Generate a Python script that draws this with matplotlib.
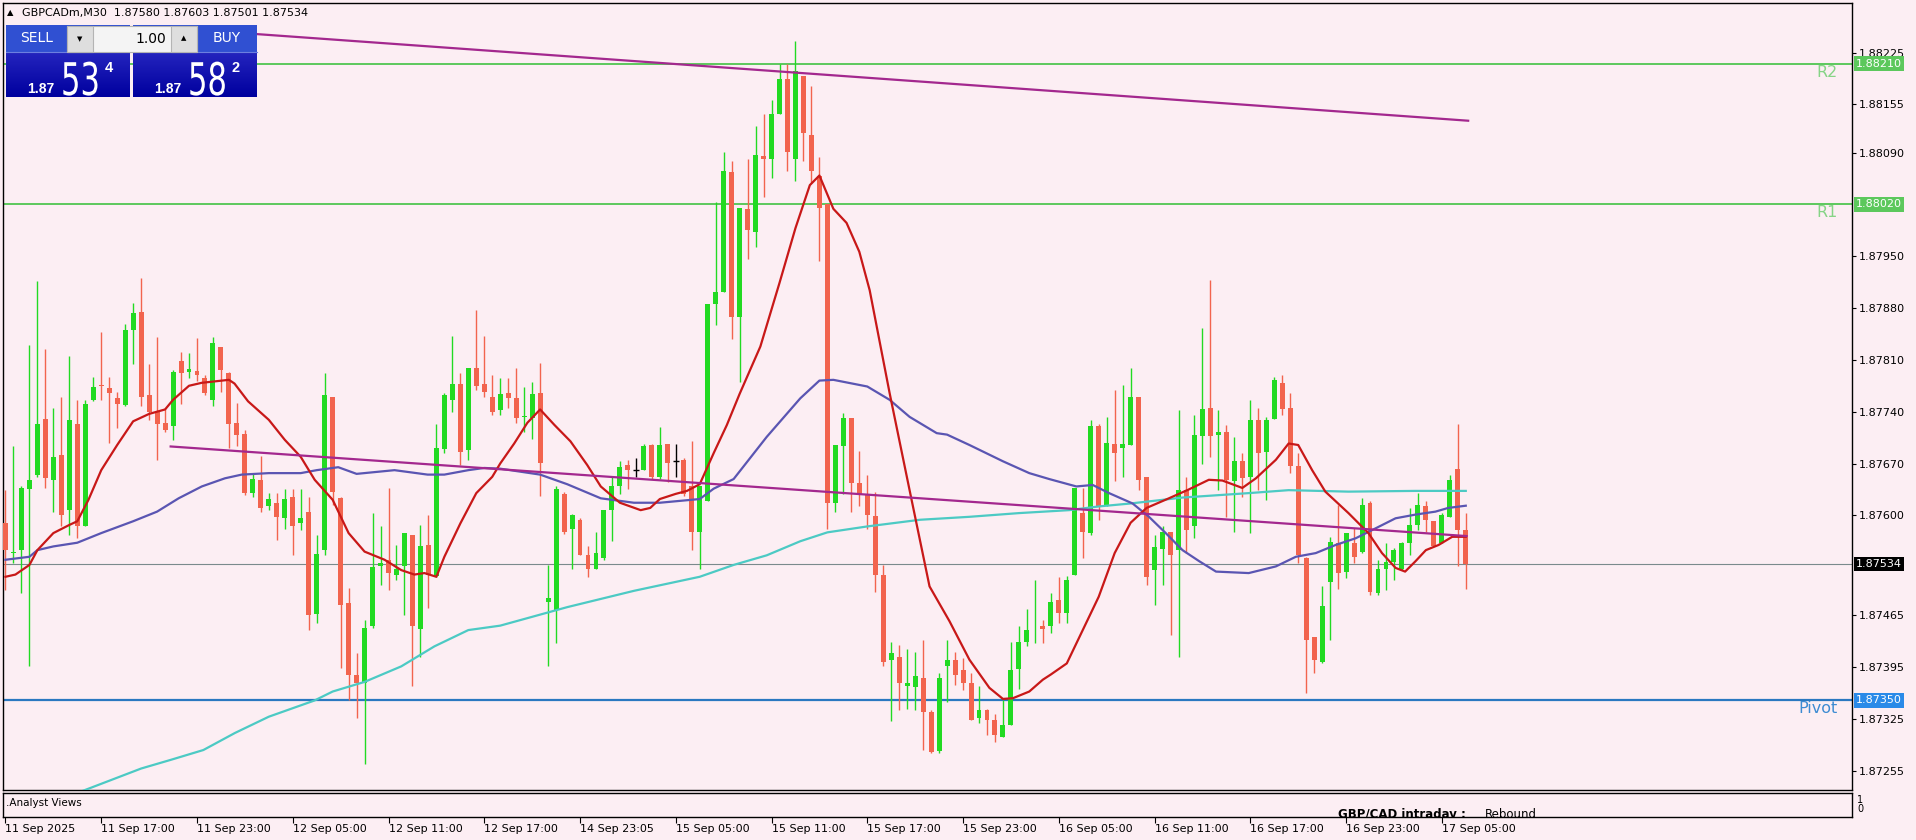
import numpy as np
import matplotlib
matplotlib.use("Agg")
import matplotlib.pyplot as plt
from matplotlib.patches import Rectangle, PathPatch
from matplotlib.transforms import blended_transform_factory, Affine2D
from matplotlib.colors import LinearSegmentedColormap
from matplotlib.textpath import TextPath
from matplotlib.font_manager import FontProperties

# GBPCAD M30 bars, prices in points (1e-5) above 1.87000
BASE = 1.87
PT = 1e-5

opens = [589, 549, 553, 635, 655, 730, 648, 682, 607, 724,
         585, 756, 776, 772, 758, 749, 850, 875, 763, 740,
         725, 720, 808, 793, 795, 785, 756, 827, 792, 725,
         710, 630, 648, 612, 616, 596, 625, 589, 605, 467,
         553, 760, 623, 481, 385, 374, 450, 532, 540, 520,
         531, 574, 446, 560, 518, 689, 756, 778, 688, 799,
         777, 760, 742, 765, 758, 733, 732, 765, 483, 472,
         629, 581, 594, 546, 527, 543, 607, 639, 668, 661,
         661, 695, 652, 697, 674, 675, 639, 578, 620, 886,
         902, 1064, 868, 1014, 983, 1086, 1081, 1142, 1190, 1081,
         1194, 1114, 1059, 1020, 617, 694, 732, 643, 629, 599,
         520, 404, 408, 370, 368, 380, 335, 282, 396, 405,
         391, 373, 326, 337, 323, 301, 317, 393, 429, 446,
         450, 450, 485, 468, 519, 603, 576, 720, 614, 696,
         691, 695, 760, 652, 526, 554, 577, 553, 634, 585,
         707, 745, 709, 712, 646, 673, 652, 729, 685, 730,
         779, 745, 667, 543, 436, 402, 510, 562, 524, 562,
         551, 616, 495, 528, 537, 528, 562, 587, 612, 592,
         562, 598, 662, 580]
highs = [634, 693, 639, 830, 916, 824, 745, 760, 815, 756,
         756, 787, 847, 787, 767, 859, 887, 920, 805, 841,
         745, 796, 821, 819, 839, 790, 841, 827, 794, 752,
         715, 657, 680, 630, 630, 635, 635, 635, 625, 574,
         792, 760, 625, 502, 414, 459, 603, 585, 637, 560,
         576, 574, 587, 601, 724, 765, 842, 792, 799, 878,
         842, 790, 785, 786, 799, 774, 780, 806, 533, 639,
         631, 602, 597, 559, 578, 607, 652, 674, 675, 677,
         697, 697, 719, 697, 697, 677, 700, 639, 886, 1023,
         1091, 1078, 1015, 1081, 1126, 1142, 1161, 1209, 1209, 1241,
         1194, 1180, 1084, 1020, 695, 738, 732, 687, 655, 632,
         533, 429, 425, 420, 416, 432, 337, 387, 432, 416,
         407, 387, 369, 339, 332, 351, 429, 450, 474, 513,
         459, 495, 517, 518, 637, 637, 729, 724, 733, 769,
         776, 799, 760, 652, 573, 585, 577, 742, 652, 736,
         853, 918, 742, 722, 706, 684, 756, 745, 733, 787,
         790, 765, 684, 544, 436, 504, 571, 614, 576, 583,
         623, 619, 540, 562, 556, 564, 610, 630, 619, 592,
         603, 655, 724, 603]
lows = [499, 535, 495, 396, 652, 637, 605, 585, 574, 569,
        585, 754, 756, 698, 718, 747, 805, 747, 729, 675,
        713, 702, 751, 785, 781, 763, 747, 767, 691, 693,
        628, 625, 605, 607, 567, 581, 547, 580, 445, 454,
        547, 614, 394, 351, 326, 264, 448, 506, 499, 513,
        466, 369, 409, 475, 517, 684, 740, 668, 675, 769,
        760, 736, 735, 745, 725, 713, 703, 626, 396, 428,
        575, 527, 546, 517, 527, 540, 565, 629, 636, 652,
        661, 649, 649, 645, 652, 626, 553, 527, 620, 857,
        902, 838, 780, 946, 963, 1030, 1055, 1142, 1065, 1052,
        1078, 1049, 943, 581, 604, 629, 604, 613, 581, 497,
        396, 322, 337, 339, 337, 283, 279, 279, 348, 371,
        364, 324, 319, 303, 294, 301, 317, 366, 423, 427,
        427, 441, 454, 454, 519, 542, 574, 594, 612, 646,
        652, 695, 634, 506, 479, 506, 438, 409, 549, 569,
        670, 679, 634, 598, 578, 625, 576, 634, 621, 730,
        736, 657, 535, 360, 387, 400, 432, 501, 515, 535,
        549, 492, 492, 499, 513, 526, 546, 580, 578, 558,
        562, 598, 531, 501]
closes = [553, 551, 637, 648, 724, 650, 679, 601, 729, 585,
          751, 774, 775, 765, 751, 850, 873, 760, 740, 724,
          715, 794, 792, 797, 790, 765, 833, 796, 724, 709,
          630, 649, 610, 622, 598, 622, 585, 597, 466, 548,
          763, 632, 479, 385, 374, 448, 530, 535, 522, 527,
          576, 450, 559, 520, 691, 763, 778, 686, 799, 775,
          767, 740, 764, 758, 732, 734, 764, 671, 488, 636,
          578, 601, 546, 527, 549, 607, 639, 665, 661, 661,
          693, 652, 695, 671, 674, 629, 578, 639, 886, 902,
          1065, 868, 1015, 985, 1087, 1081, 1142, 1190, 1091, 1200,
          1116, 1065, 1015, 617, 695, 732, 643, 629, 601, 519,
          402, 414, 373, 373, 383, 335, 281, 380, 405, 384,
          373, 324, 337, 324, 303, 317, 391, 429, 445, 447,
          447, 483, 468, 512, 637, 578, 720, 612, 698, 684,
          696, 760, 648, 517, 557, 577, 546, 634, 580, 709,
          743, 707, 713, 648, 673, 650, 729, 684, 729, 783,
          743, 666, 546, 432, 405, 477, 564, 522, 576, 544,
          614, 497, 528, 537, 553, 562, 587, 614, 594, 558,
          601, 648, 580, 534]

# moving averages (bar index, points)
red_i = [0, 1.25, 3, 4, 6, 8, 9, 10.4, 12, 14, 16, 18, 20, 21, 23, 24.6, 28, 28.7, 30.4, 33,
         35, 37, 38.75, 41, 43, 45, 47.5, 49.6, 51.25, 52.5, 54, 55, 57, 59, 61, 62, 63.75, 65.4, 67, 68.8,
         70.8, 72.9, 74.6, 77, 79.6, 80.8, 82, 84, 85.4, 87, 88.75, 90.4, 92, 94.6, 97, 99, 100.8, 102, 103.75, 105.4,
         107, 108.3, 110.8, 113.3, 115.8, 118.3, 120.8, 123.3, 125, 126.25, 128.3, 130, 131, 133, 135, 137, 139, 141, 143, 145.8,
         148.3, 150.8, 152.5, 155, 156.7, 159.2, 160.8, 162, 163.75, 165.4, 168.3, 170.8, 172.5, 174.2, 175.4, 176.7, 178, 179.6, 181.3, 183]
red_p = [517, 520, 533, 553, 576, 587, 592, 621, 661, 695, 727, 737, 743, 756, 775, 779, 783, 778, 754, 729,
         702, 679, 648, 621, 576, 551, 540, 526, 520, 522, 517, 544, 589, 630, 652, 670, 697, 725, 743, 722,
         700, 668, 639, 617, 607, 610, 622, 629, 633, 642, 684, 722, 764, 828, 914, 988, 1046, 1059, 1014, 995,
         956, 904, 765, 634, 504, 457, 405, 367, 352, 353, 362, 378, 385, 400, 445, 490, 549, 590, 610, 623,
         635, 648, 647, 637, 650, 675, 697, 695, 661, 632, 603, 576, 549, 529, 524, 538, 553, 560, 571, 571]

blue_i = [0, 3, 4, 6, 9, 12, 16, 19, 21.7, 24.6, 27.5, 29.6, 33, 37, 39, 41.7, 44, 48.75, 52.9, 55,
          58, 60, 62, 67, 70.4, 74.6, 78.75, 82, 87, 88.75, 91.25, 95.4, 99.6, 102, 103.75, 108, 110.8, 113.3, 116.7, 118,
          120.8, 125, 128.3, 130.8, 134.2, 136.25, 138.3, 141.25, 143.3, 145.4, 147.5, 149.6, 151.7, 155.8, 159.2, 161.7,
          164.2, 166.7, 169.2, 171.25, 174.2, 176.7, 179.2, 180.8, 183]
blue_p = [540, 544, 553, 558, 563, 576, 592, 605, 623, 639, 650, 655, 657, 657, 661, 665, 656, 661, 655, 655,
          661, 664, 663, 655, 642, 623, 617, 617, 622, 636, 649, 706, 758, 782, 783, 774, 756, 733, 711, 709,
          695, 673, 657, 649, 639, 641, 630, 616, 598, 576, 553, 538, 524, 522, 531, 544,
          549, 560, 569, 580, 596, 601, 605, 610, 613]

cyan_i = [9, 10.7, 17, 20.8, 24.8, 28.75, 33, 38.75, 41, 45, 49.6, 53.75, 58, 62, 70.4, 78.75, 87, 91.25,
          95.4, 99.6, 103, 108, 114.6, 120.8, 127, 133.3, 137, 141, 147.5, 155.8, 160.8, 168.3, 176.7, 183]
cyan_p = [225, 232, 258, 270, 283, 306, 328, 350, 362, 375, 396, 423, 445, 451, 476, 498, 517, 533,
          546, 565, 577, 585, 594, 598, 603, 607, 612, 616, 624, 630, 634, 632, 633, 633]

# trend lines (start/end bar, price)
trend_hi = ([31.5, 183.3], [1.88250, 1.88133])
trend_lo = ([20.7, 183.1], [1.87693, 1.87572])

R2, R1, PIVOT, LAST = 1.88210, 1.88020, 1.87350, 1.87534

ytick_vals = [1.88225, 1.88155, 1.88090, 1.87950, 1.87880, 1.87810, 1.87740, 1.87670,
              1.87600, 1.87465, 1.87395, 1.87325, 1.87255]
xtick_labels = ['11 Sep 2025', '11 Sep 17:00', '11 Sep 23:00', '12 Sep 05:00', '12 Sep 11:00',
                '12 Sep 17:00', '14 Sep 23:05', '15 Sep 05:00', '15 Sep 11:00', '15 Sep 17:00',
                '15 Sep 23:00', '16 Sep 05:00', '16 Sep 11:00', '16 Sep 17:00', '16 Sep 23:00',
                '17 Sep 05:00']

BG = '#FCEEF3'
UP, DN = '#22DA22', '#F2644E'

o = BASE + np.array(opens) * PT
h = BASE + np.array(highs) * PT
l = BASE + np.array(lows) * PT
c = BASE + np.array(closes) * PT
idx = np.arange(len(o))

W, H = 1916, 840
fig = plt.figure(figsize=(W / 100, H / 100), dpi=100, facecolor=BG)
ax = fig.add_axes([3 / W, 50 / H, 1849 / W, 787 / H], facecolor=BG)
ax2 = fig.add_axes([3 / W, 23 / H, 1849 / W, 24 / H], facecolor=BG)

xlim = (-0.31, 231.4)

# candles
up = c > o
dn = c < o
dj = c == o
ax.vlines(idx[up], l[up], h[up], color=UP, lw=1, zorder=3)
ax.vlines(idx[dn], l[dn], h[dn], color=DN, lw=1, zorder=3)
ax.vlines(idx[dj], l[dj], h[dj], color='black', lw=1, zorder=3)
ax.bar(idx[up], (c - o)[up], bottom=o[up], width=0.62, color=UP, zorder=3)
ax.bar(idx[dn], (c - o)[dn], bottom=o[dn], width=0.62, color=DN, zorder=3)
ax.hlines(o[dj], idx[dj] - 0.35, idx[dj] + 0.35, color='black', lw=1, zorder=3)

# moving averages
ax.plot(cyan_i, BASE + np.array(cyan_p) * PT, color='#4CCAC4', lw=1.6, zorder=4)
ax.plot(blue_i, BASE + np.array(blue_p) * PT, color='#5A55B2', lw=1.6, zorder=4)
ax.plot(red_i, BASE + np.array(red_p) * PT, color='#C81818', lw=1.6, zorder=5)

# trend lines
ax.plot(*trend_hi, color='#A3288E', lw=1.6, zorder=5)
ax.plot(*trend_lo, color='#A3288E', lw=1.6, zorder=5)

# levels
ax.axhline(R2, color='#5CC85C', lw=1.4, zorder=2)
ax.axhline(R1, color='#5CC85C', lw=1.4, zorder=2)
ax.axhline(PIVOT, color='#2A78C0', lw=1.6, zorder=2)
ax.axhline(LAST, color='#7A8A8C', lw=0.8, zorder=2)

tr = blended_transform_factory(ax.transAxes, ax.transData)
lx = (1838 - 3) / 1849
for txt, y, col in [('R2', R2, '#86D486'), ('R1', R1, '#86D486'), ('Pivot', PIVOT, '#3D8BD2')]:
    ax.annotate(txt, xy=(lx, y), xycoords=tr, xytext=(0, -1), textcoords='offset pixels',
                ha='right', va='top', fontsize=11.5, color=col, zorder=6)

for y, col in [(R2, '#5CC85C'), (R1, '#5CC85C'), (LAST, '#000000'), (PIVOT, '#2A8AE8')]:
    ax.annotate(f'{y:.5f}', xy=(1.0, y), xycoords=tr, xytext=(4, 0), textcoords='offset pixels',
                ha='left', va='center', fontsize=8, color='white', annotation_clip=False,
                bbox=dict(boxstyle='square,pad=0.2', fc=col, ec='none'), zorder=7)

ax.set_xlim(*xlim)
ax.set_ylim(1.87229, 1.88292)
ax.set_xticks([])
ax.yaxis.tick_right()
ax.set_yticks(ytick_vals)
ax.set_yticklabels([f'{v:.5f}' for v in ytick_vals])
ax.tick_params(axis='y', direction='out', length=3, width=0.8, pad=2, labelsize=8)
for s in ax.spines.values():
    s.set_linewidth(1.0)

# analyst views sub-panel
ax2.set_xlim(*xlim)
ax2.set_ylim(0, 1)
ax2.set_yticks([])
ax2.set_xticks(np.arange(0, 181, 12))
ax2.set_xticklabels(xtick_labels, ha='left', fontsize=8)
ax2.tick_params(axis='x', direction='out', length=4, width=0.8, pad=1)
for s in ax2.spines.values():
    s.set_linewidth(1.0)
ax2.text(3 / 1849, 0.58, '.Analyst Views', transform=ax2.transAxes, fontsize=7.5, va='center')
ax2.text((1338 - 3) / 1849, 0.12, 'GBP/CAD intraday :', transform=ax2.transAxes, fontsize=8.5,
         fontweight='bold', va='center', clip_on=True)
ax2.text((1485 - 3) / 1849, 0.12, 'Rebound', transform=ax2.transAxes, fontsize=8.5,
         va='center', clip_on=True)
fig.text(1857 / W, 1 - 800 / H, '1', fontsize=7, va='center')
fig.text(1857 / W, 1 - 809 / H, '0', fontsize=7, va='center')

# header + one-click trading panel, drawn in pixel space
ov = fig.add_axes([0, 0, 1, 1], facecolor='none')
ov.text(7, 13, '▲', fontsize=6, va='center')
ov.text(22, 13, 'GBPCADm,M30  1.87580 1.87603 1.87501 1.87534', fontsize=8, va='center')

grad = LinearSegmentedColormap.from_list('g', ['#2424BE', '#00009E'])
gimg = np.linspace(0, 1, 50).reshape(-1, 1)
big_font = FontProperties(family='DejaVu Sans')
for x0, label, lab_x, pre, big, sup in [(6, 'SELL', 20, '1.87', '53', '4'),
                                         (133, 'BUY', 213, '1.87', '58', '2')]:
    ov.imshow(gimg, cmap=grad, aspect='auto', extent=(x0, x0 + 124, 97, 52), zorder=1)
    ov.add_patch(Rectangle((x0, 25), 124, 27, fc='#3050D2', ec='none', zorder=1))
    ov.plot([x0, x0 + 124], [52, 52], color='#6C7FE0', lw=0.8, zorder=2)
    ov.text(lab_x, 38.5, label, fontsize=10, color='white', va='center', zorder=3)
    ov.text(x0 + 21, 93, pre, fontsize=10, fontweight='bold', color='white',
            family=['Liberation Sans', 'DejaVu Sans'], va='baseline', zorder=3)
    # narrow tall digits: squeeze the glyph outline horizontally
    tp = TextPath((0, 0), big, size=45, prop=big_font)
    ov.add_patch(PathPatch(Affine2D().scale(0.68, -1.0).translate(x0 + 55, 95).transform_path(tp),
                           fc='white', ec='none', zorder=3))
    ov.text(x0 + 99, 61, sup, fontsize=10.5, fontweight='bold', color='white',
            family=['Liberation Sans', 'DejaVu Sans'], va='top', zorder=3)

ov.add_patch(Rectangle((67, 26), 130, 26, fc='#F4F4F4', ec='#B4B4B4', lw=0.8, zorder=4))
ov.add_patch(Rectangle((67, 26), 26, 26, fc='#DEDEDE', ec='#B4B4B4', lw=0.8, zorder=4))
ov.add_patch(Rectangle((171, 26), 26, 26, fc='#DEDEDE', ec='#B4B4B4', lw=0.8, zorder=4))
ov.text(80, 39.5, '▼', fontsize=5, ha='center', va='center', zorder=5)
ov.text(184, 38.5, '▲', fontsize=5, ha='center', va='center', zorder=5)
ov.text(166, 39, '1.00', fontsize=10, ha='right', va='center', zorder=5)
ov.set_xlim(0, W)
ov.set_ylim(H, 0)
ov.axis('off')

fig.savefig('out.png', dpi=100, facecolor=BG)
